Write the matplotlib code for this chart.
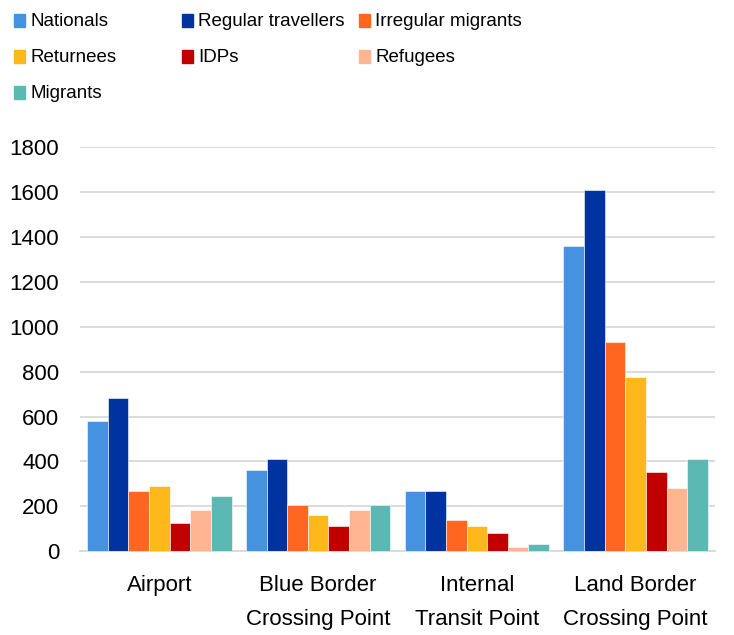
import matplotlib
matplotlib.use("Agg")
import matplotlib.pyplot as plt
from matplotlib.patches import Rectangle
import numpy as np

plt.rcParams['font.family'] = ['Liberation Sans', 'DejaVu Sans']

categories = ["Airport", "Blue Border\nCrossing Point", "Internal\nTransit Point", "Land Border\nCrossing Point"]
series_names = ["Nationals", "Regular travellers", "Irregular migrants",
                "Returnees", "IDPs", "Refugees", "Migrants"]
colors = ["#4592e0", "#0033a0", "#ff6720", "#ffb81c", "#c00000", "#ffb591", "#5cb8b2"]

nationals = [578, 364, 267, 1360]
regular = [683, 410, 267, 1610]
irregular = [267, 208, 137, 932]
returnees = [291, 160, 113, 778]
idps = [126, 114, 79, 352]
refugees = [184, 184, 18, 281]
migrants = [244, 208, 30, 410]
values = [nationals, regular, irregular, returnees, idps, refugees, migrants]

yticks = [0, 200, 400, 600, 800, 1000, 1200, 1400, 1600, 1800]

fig = plt.figure(figsize=(7.34, 6.35), dpi=100)
ax = fig.add_axes([0.109, 0.132, 0.865, 0.636])

x = np.arange(len(categories))
n = len(series_names)
w = 0.91 / n
for i, (vals, c) in enumerate(zip(values, colors)):
    ax.bar(x - 0.455 + w * (i + 0.5), vals, width=w, color=c, edgecolor="white",
           linewidth=0.4, zorder=3)

ax.set_xlim(-0.5, len(categories) - 0.5)
ax.set_ylim(0, 1800)
ax.set_yticks(yticks)
ax.set_yticklabels([str(v) for v in yticks], fontsize=16)
ax.set_xticks(x)
ax.set_xticklabels(categories, fontsize=16, linespacing=1.8)
ax.tick_params(axis="y", length=0, pad=15)
ax.tick_params(axis="x", length=0, pad=17)
ax.grid(axis="y", color="#d9d9d9", linewidth=1.3, zorder=0)
for s in ["top", "right", "left"]:
    ax.spines[s].set_visible(False)
ax.spines["bottom"].set_color("#d9d9d9")
ax.spines["bottom"].set_linewidth(1.3)

# legend laid out by hand in three rows, like the original
col_x = [20, 188, 365]
row_y = [21, 57, 93]
for i, (name, c) in enumerate(zip(series_names, colors)):
    px, py = col_x[i % 3], row_y[i // 3]
    fig.patches.append(Rectangle(((px - 6) / 734, 1 - (py + 6) / 635), 11 / 734, 13 / 635,
                                 transform=fig.transFigure, color=c, figure=fig))
    fig.text((px + 10) / 734, 1 - py / 635, name, fontsize=13.5, va="center", ha="left")

fig.savefig("out.png", dpi=100)
